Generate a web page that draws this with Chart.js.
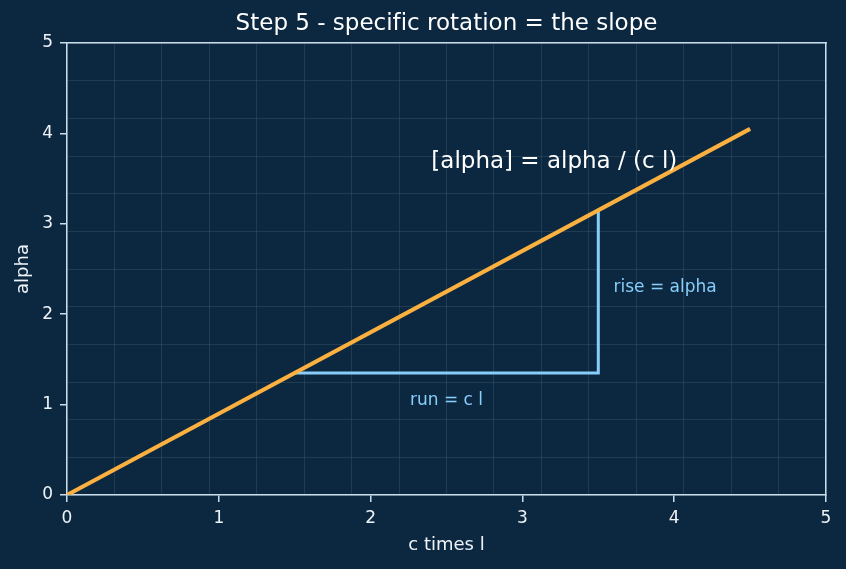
<!DOCTYPE html>
<html>
<head>
<meta charset="utf-8">
<script src="https://cdn.jsdelivr.net/npm/chart.js@4.4.1/dist/chart.umd.min.js"></script>
<style>
  html, body { margin: 0; padding: 0; background: #0c2840; }
  canvas { display: block; }
</style>
</head>
<body>
<canvas id="slopeChart" width="846" height="569"></canvas>
<script>
// slope line through the origin
const lineX = [0, 4.5];
const lineY = [0, 4.05];

// rise / run triangle
const triX = [1.5, 3.5, 3.5];
const triY = [1.35, 1.35, 3.15];

// text notes (data coords)
const noteText = ["[alpha] = alpha / (c l)", "rise = alpha", "run = c l"];
const noteX = [2.4, 3.6, 2.5];
const noteY = [3.68, 2.3, 1.05];

const tickValues = [0, 1, 2, 3, 4, 5];

// ZWNJ keeps "fi" from turning into a ligature
const titleText = "Step 5 - specif\u200Cic rotation = the slope";

const BG = "#0c2840";
const SPINE = "#c9deec";
const ORANGE = "#fbb040";
const SKY = "#87cefa";
const FONT = "'DejaVu Sans', sans-serif";

const bgPlugin = {
  id: "bg",
  beforeDraw(chart) {
    const c = chart.ctx;
    c.save();
    c.fillStyle = BG;
    c.fillRect(0, 0, chart.width, chart.height);
    c.restore();
  }
};

// title centred over the plot area, plus the text notes
const notesPlugin = {
  id: "notes",
  afterDatasetsDraw(chart) {
    const c = chart.ctx;
    const xs = chart.scales.x, ys = chart.scales.y;
    const area = chart.chartArea;
    const styles = [
      { color: "#ffffff", size: 23, align: "left" },
      { color: SKY, size: 17, align: "left" },
      { color: SKY, size: 17, align: "center" }
    ];
    c.save();
    c.textBaseline = "middle";
    noteText.forEach((t, i) => {
      const s = styles[i];
      c.fillStyle = s.color;
      c.font = s.size + "px " + FONT;
      c.textAlign = s.align;
      c.fillText(t, xs.getPixelForValue(noteX[i]), ys.getPixelForValue(noteY[i]));
    });
    c.fillStyle = "#ffffff";
    c.font = "23px " + FONT;
    c.textAlign = "center";
    c.fillText(titleText, (area.left + area.right) / 2, 24);
    c.restore();
  }
};

const pts = (xs, ys) => xs.map((x, i) => ({ x: x, y: ys[i] }));

new Chart(document.getElementById("slopeChart"), {
  type: "scatter",
  data: {
    datasets: [
      {
        data: pts(lineX, lineY),
        showLine: true,
        borderColor: ORANGE,
        borderWidth: 4,
        pointRadius: 0,
        borderCapStyle: "butt"
      },
      {
        data: pts(triX, triY),
        showLine: true,
        borderColor: SKY,
        borderWidth: 3,
        pointRadius: 0
      }
    ]
  },
  options: {
    responsive: false,
    animation: false,
    events: [],
    layout: { padding: { left: 0, right: 20, top: 43, bottom: 0 } },
    plugins: {
      legend: { display: false },
      tooltip: { enabled: false },
      title: { display: false }
    },
    scales: {
      x: {
        type: "linear",
        position: "bottom",
        min: 0,
        max: 5,
        afterBuildTicks: (a) => { a.ticks = tickValues.map(v => ({ value: v })); },
        afterFit: (a) => { a.height = 74; },
        grid: { drawOnChartArea: false, drawTicks: true, tickLength: 7, color: SPINE, lineWidth: 1.5 },
        border: { display: true, color: SPINE, width: 1.5 },
        ticks: { color: "#eef3f7", font: { family: FONT, size: 17 }, padding: 6, maxRotation: 0 },
        title: { display: true, text: "c times l", color: "#eef3f7", font: { family: FONT, size: 18 }, padding: { bottom: 12.7 } }
      },
      y: {
        type: "linear",
        position: "left",
        min: 0,
        max: 5,
        afterBuildTicks: (a) => { a.ticks = tickValues.map(v => ({ value: v })); },
        afterFit: (a) => { a.width = 67; },
        grid: { drawOnChartArea: false, drawTicks: true, tickLength: 7, color: SPINE, lineWidth: 1.5 },
        border: { display: true, color: SPINE, width: 1.5 },
        ticks: { color: "#eef3f7", font: { family: FONT, size: 17 }, padding: 7 },
        title: { display: true, text: "alpha", color: "#eef3f7", font: { family: FONT, size: 18 }, padding: { top: 13 } }
      },
      gx: {
        type: "linear",
        position: "top",
        min: 0,
        max: 5,
        afterBuildTicks: (a) => { a.ticks = Array.from({ length: 17 }, (_, i) => ({ value: i * 5 / 16 })); },
        afterFit: (a) => { a.height = 0; },
        grid: { color: "rgba(255,255,255,0.09)", lineWidth: 1, drawTicks: false },
        border: { display: true, color: SPINE, width: 1.5 },
        ticks: { display: false }
      },
      gy: {
        type: "linear",
        position: "right",
        min: 0,
        max: 5,
        afterBuildTicks: (a) => { a.ticks = Array.from({ length: 13 }, (_, i) => ({ value: i * 5 / 12 })); },
        afterFit: (a) => { a.width = 0; },
        grid: { color: "rgba(255,255,255,0.09)", lineWidth: 1, drawTicks: false },
        border: { display: true, color: SPINE, width: 1.5 },
        ticks: { display: false }
      }
    }
  },
  plugins: [bgPlugin, notesPlugin]
});
</script>
</body>
</html>
